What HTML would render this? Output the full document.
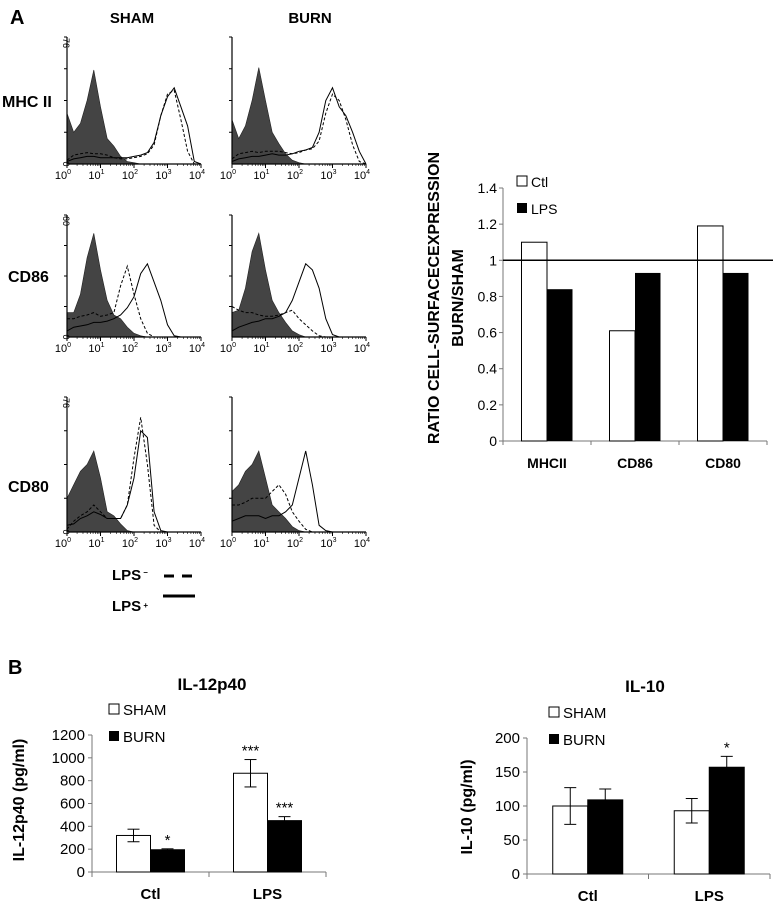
<!DOCTYPE html>
<html><head><meta charset="utf-8"><style>
html,body{margin:0;padding:0;background:#fff}
svg{display:block;font-family:"Liberation Sans",Arial,sans-serif}
.b{font-weight:bold}
</style></head><body>
<svg id="fig" width="773" height="904" viewBox="0 0 773 904" xmlns="http://www.w3.org/2000/svg">
<text x="10" y="24" font-size="20" class="b">A</text>
<text x="132" y="23" font-size="15" class="b" text-anchor="middle">SHAM</text>
<text x="310" y="23" font-size="15" class="b" text-anchor="middle">BURN</text>
<text x="2" y="107" font-size="16" class="b">MHC II</text>
<text x="8" y="282" font-size="16" class="b">CD86</text>
<text x="8" y="492" font-size="16" class="b">CD80</text>
<g id="hists"></g>
<g>
<text x="112" y="580" font-size="15" class="b">LPS<tspan font-size="8" dy="-5"> –</tspan></text>
<line x1="164" y1="576" x2="193" y2="576" stroke="#000" stroke-width="3" stroke-dasharray="10,8"/>
<text x="112" y="611" font-size="15" class="b">LPS<tspan font-size="8" dy="-3"> +</tspan></text>
<line x1="163" y1="596" x2="195" y2="596" stroke="#000" stroke-width="3"/>
</g>
<g id="ratio"></g>
<text x="8" y="674" font-size="20" class="b">B</text>
<g id="il12"></g>
<g id="il10"></g>
</svg>
<script>
// ---------- histogram data (fraction of plot height at log10 = 0,0.2,...,4) ----------
const histRows = ["MHC II","CD86","CD80"];
const histCols = ["SHAM","BURN"];
const histYMax = ["76","60","76"];
const mhcShamFill = [0.4,0.25,0.32,0.5,0.74,0.45,0.2,0.14,0.06,0.02,0.01,0,0,0,0,0,0,0,0,0,0];
const mhcShamDash = [0.03,0.07,0.08,0.09,0.08,0.08,0.07,0.05,0.04,0.04,0.05,0.06,0.08,0.15,0.38,0.55,0.58,0.35,0.1,0,0];
const mhcShamSolid = [0.02,0.04,0.05,0.06,0.06,0.05,0.05,0.05,0.05,0.05,0.06,0.07,0.09,0.17,0.38,0.53,0.6,0.45,0.3,0.02,0];
const mhcBurnFill = [0.35,0.2,0.3,0.5,0.76,0.5,0.25,0.16,0.08,0.03,0.01,0,0,0,0,0,0,0,0,0,0];
const mhcBurnDash = [0.04,0.08,0.09,0.1,0.09,0.1,0.1,0.1,0.09,0.08,0.09,0.11,0.12,0.18,0.4,0.55,0.5,0.35,0.15,0.02,0];
const mhcBurnSolid = [0.02,0.04,0.05,0.06,0.06,0.07,0.08,0.07,0.07,0.08,0.1,0.11,0.13,0.25,0.5,0.6,0.45,0.38,0.25,0.1,0];
const cd86ShamFill = [0.2,0.2,0.35,0.65,0.85,0.55,0.3,0.18,0.15,0.08,0.03,0.01,0,0,0,0,0,0,0,0,0];
const cd86ShamDash = [0.15,0.15,0.17,0.18,0.2,0.17,0.18,0.2,0.42,0.58,0.35,0.15,0.03,0,0,0,0,0,0,0,0];
const cd86ShamSolid = [0.05,0.08,0.09,0.1,0.12,0.12,0.13,0.15,0.18,0.24,0.33,0.52,0.6,0.45,0.3,0.1,0.01,0,0,0,0];
const cd86BurnFill = [0.2,0.22,0.4,0.7,0.85,0.55,0.3,0.2,0.12,0.05,0.02,0,0,0,0,0,0,0,0,0,0];
const cd86BurnDash = [0.25,0.22,0.2,0.2,0.18,0.17,0.17,0.18,0.2,0.22,0.15,0.1,0.05,0.01,0,0,0,0,0,0,0];
const cd86BurnSolid = [0.05,0.08,0.1,0.12,0.13,0.15,0.15,0.17,0.2,0.3,0.45,0.6,0.55,0.4,0.15,0.02,0,0,0,0,0];
const cd80ShamFill = [0.25,0.35,0.45,0.5,0.6,0.4,0.15,0.12,0.06,0.01,0,0,0,0,0,0,0,0,0,0,0];
const cd80ShamDash = [0.02,0.08,0.12,0.15,0.2,0.15,0.1,0.1,0.1,0.2,0.55,0.85,0.5,0.05,0,0,0,0,0,0,0];
const cd80ShamSolid = [0.05,0.06,0.1,0.12,0.15,0.13,0.1,0.1,0.1,0.2,0.4,0.75,0.7,0.15,0.01,0,0,0,0,0,0];
const cd80BurnFill = [0.3,0.35,0.45,0.5,0.6,0.4,0.2,0.15,0.1,0.04,0.01,0,0,0,0,0,0,0,0,0,0];
const cd80BurnDash = [0.2,0.2,0.22,0.25,0.25,0.25,0.3,0.35,0.28,0.15,0.08,0.02,0,0,0,0,0,0,0,0,0];
const cd80BurnSolid = [0.08,0.1,0.12,0.12,0.12,0.1,0.12,0.12,0.15,0.2,0.4,0.6,0.35,0.05,0.01,0,0,0,0,0,0];
const histData = [
 [[mhcShamFill,mhcShamDash,mhcShamSolid],[mhcBurnFill,mhcBurnDash,mhcBurnSolid]],
 [[cd86ShamFill,cd86ShamDash,cd86ShamSolid],[cd86BurnFill,cd86BurnDash,cd86BurnSolid]],
 [[cd80ShamFill,cd80ShamDash,cd80ShamSolid],[cd80BurnFill,cd80BurnDash,cd80BurnSolid]]
];
// ---------- ratio chart data ----------
const ratioCats = ["MHCII","CD86","CD80"];
const ratioCtl = [1.1,0.61,1.19];
const ratioLps = [0.84,0.93,0.93];
const ratioTicks = ["0","0.2","0.4","0.6","0.8","1","1.2","1.4"];
// ---------- cytokine data ----------
const cytoCats = ["Ctl","LPS"];
const il12Sham = [320,865];
const il12ShamErr = [55,120];
const il12Burn = [195,450];
const il12BurnErr = [8,35];
const il12ShamStars = ["","***"];
const il12BurnStars = ["*","***"];
const il12Ticks = ["0","200","400","600","800","1000","1200"];
const il10Sham = [100,93];
const il10ShamErr = [27,18];
const il10Burn = [109,157];
const il10BurnErr = [16,16];
const il10ShamStars = ["",""];
const il10BurnStars = ["","*"];
const il10Ticks = ["0","50","100","150","200"];

const NS="http://www.w3.org/2000/svg";
function mk(parent,tag,attrs,txt){const e=document.createElementNS(NS,tag);for(const k in attrs)e.setAttribute(k,attrs[k]);if(txt!==undefined)e.textContent=txt;parent.appendChild(e);return e;}

// ---------- histograms ----------
const hg=document.getElementById('hists');
const colX=[67,232], decade=33.5;
const rowTop=[37,215,397], rowBase=[164,337,532];
histRows.forEach((rn,r)=>{
 histCols.forEach((cn,c)=>{
  const x0=colX[c], top=rowTop[r], base=rowBase[r], h=base-top;
  const g=mk(hg,'g',{});
  
  
  const xs=i=>x0+i*0.2*decade, ys=v=>base-v*h;
  const [fill,dash,solid]=histData[r][c];
  let d='M'+x0+','+base;
  fill.forEach((v,i)=>{d+=' L'+xs(i).toFixed(1)+','+ys(v).toFixed(1);});
  d+=' L'+xs(fill.length-1)+','+base+' Z';
  const fp=mk(g,'path',{d:d,fill:'#444',stroke:'#222','stroke-width':0.6});
  
  
  const pl=arr=>arr.map((v,i)=>xs(i).toFixed(1)+','+ys(v).toFixed(1)).join(' ');
  const dl=mk(g,'polyline',{points:pl(dash),fill:'none',stroke:'#000','stroke-width':1,'stroke-dasharray':'3,2'});
  
  
  const sl=mk(g,'polyline',{points:pl(solid),fill:'none',stroke:'#000','stroke-width':1});
  
  
  mk(g,'line',{x1:x0,y1:top,x2:x0,y2:base,stroke:'#000','stroke-width':1.2});
  mk(g,'line',{x1:x0,y1:base,x2:x0+4*decade,y2:base,stroke:'#000','stroke-width':1.2});
  for(let k=1;k<4;k++) mk(g,'line',{x1:x0,y1:top+k*h/4,x2:x0-3,y2:top+k*h/4,stroke:'#000','stroke-width':1});
  mk(g,'line',{x1:x0,y1:top,x2:x0-3,y2:top,stroke:'#000','stroke-width':1});
  for(let k=0;k<=4;k++){
   mk(g,'line',{x1:x0+k*decade,y1:base,x2:x0+k*decade,y2:base+4,stroke:'#000','stroke-width':1});
   for(let m=2;m<10&&k<4;m++){const mx=x0+(k+Math.log10(m))*decade;mk(g,'line',{x1:mx,y1:base,x2:mx,y2:base+2,stroke:'#000','stroke-width':0.6});}
   const t=mk(g,'text',{x:x0+k*decade-4,y:base+15,'font-size':11,'text-anchor':'middle'},'10');
   mk(t,'tspan',{dy:-5,'font-size':7},String(k));
  }
  if(c===0){
   mk(g,'text',{x:0,y:0,'font-size':9,transform:`translate(${x0-4},${base}) rotate(90)`,'text-anchor':'middle'},'0');
   mk(g,'text',{x:0,y:0,'font-size':9,transform:`translate(${x0-4},${top+6}) rotate(90)`,'text-anchor':'middle'},histYMax[r]);
  }
 });
});

// ---------- ratio chart ----------
(function(){
 const g=document.getElementById('ratio');
 const ax=503, y0=441, ppu=(441-188)/1.4, xEnd=767, gw=(xEnd-ax)/3, bw=25.5;
 const y=v=>y0-v*ppu;
 mk(g,'line',{x1:ax,y1:188,x2:ax,y2:y0,stroke:'#777','stroke-width':1});
 mk(g,'line',{x1:ax,y1:y0,x2:xEnd,y2:y0,stroke:'#777','stroke-width':1});
 ratioTicks.forEach(t=>{const v=parseFloat(t);mk(g,'line',{x1:ax-4,y1:y(v),x2:ax,y2:y(v),stroke:'#777'});
  const tx=mk(g,'text',{x:ax-6,y:y(v)+5,'font-size':14,'text-anchor':'end'},t);
  
  });
 for(let k=0;k<=3;k++) mk(g,'line',{x1:ax+k*gw,y1:y0,x2:ax+k*gw,y2:y0+4,stroke:'#777'});
 ratioCats.forEach((c,i)=>{
  const cx=ax+gw*(i+0.5);
  const b1=mk(g,'rect',{x:cx-bw,y:y(ratioCtl[i]),width:bw,height:ratioCtl[i]*ppu,fill:'#fff',stroke:'#000','stroke-width':1});
  
  
  const b2=mk(g,'rect',{x:cx,y:y(ratioLps[i]),width:bw,height:ratioLps[i]*ppu,fill:'#000'});
  
  
  const t=mk(g,'text',{x:cx,y:y0+27,'font-size':14,'text-anchor':'middle','class':'b'},c);
  
  
 });
 const rl=mk(g,'line',{x1:ax,y1:y(1),x2:773,y2:y(1),stroke:'#000','stroke-width':1.5});
 
 
 mk(g,'rect',{x:517,y:176,width:10,height:10,fill:'#fff',stroke:'#000'});
 mk(g,'text',{x:531,y:187,'font-size':14},'Ctl');
 mk(g,'rect',{x:517,y:203,width:10,height:10,fill:'#000'});
 mk(g,'text',{x:531,y:214,'font-size':14},'LPS');
 const yt=mk(g,'text',{x:0,y:0,'font-size':16,'class':'b','text-anchor':'middle',transform:'translate(439,298) rotate(-90)'},'RATIO CELL-SURFACECEXPRESSION');
 
 
 mk(g,'text',{x:0,y:0,'font-size':16,'class':'b','text-anchor':'middle',transform:'translate(463,298) rotate(-90)'},'BURN/SHAM');
})();

// ---------- cytokine charts ----------
function cyto(id,o){
 const g=document.getElementById(id);
 const ax=o.ax,y0=o.y0,ppu=(o.y0-o.yTop)/o.max,xEnd=o.xEnd,gw=(xEnd-ax)/2,bw=o.bw;
 const y=v=>y0-v*ppu;
 mk(g,'line',{x1:ax,y1:o.yTop,x2:ax,y2:y0,stroke:'#777'});
 mk(g,'line',{x1:ax,y1:y0,x2:xEnd,y2:y0,stroke:'#777'});
 for(let k=0;k<=2;k++) mk(g,'line',{x1:ax+k*gw,y1:y0,x2:ax+k*gw,y2:y0+5,stroke:'#777'});
 o.ticks.forEach(t=>{const v=+t;mk(g,'line',{x1:ax-4,y1:y(v),x2:ax,y2:y(v),stroke:'#777'});
  const tx=mk(g,'text',{x:ax-7,y:y(v)+5,'font-size':15,'text-anchor':'end'},t);
  
  });
 cytoCats.forEach((c,i)=>{
  const cx=ax+gw*(i+0.5);
  [[o.sham,o.shamErr,o.shamStars,cx-bw,'#fff','sham'],[o.burn,o.burnErr,o.burnStars,cx,'#000','burn']].forEach(s=>{
   const v=s[0][i],e=s[1][i],bx=s[3];
   const r=mk(g,'rect',{x:bx,y:y(v),width:bw,height:v*ppu,fill:s[4],stroke:'#000','stroke-width':1});
   
   
   const mx=bx+bw/2;
   mk(g,'line',{x1:mx,y1:y(v+e),x2:mx,y2:y(v-e),stroke:'#000','stroke-width':1});
   mk(g,'line',{x1:mx-6,y1:y(v+e),x2:mx+6,y2:y(v+e),stroke:'#000'});
   mk(g,'line',{x1:mx-6,y1:y(v-e),x2:mx+6,y2:y(v-e),stroke:'#000'});
   if(s[2][i]){const st=mk(g,'text',{x:mx,y:y(v+e)-4,'font-size':15,'text-anchor':'middle'},s[2][i]);
    
    }
  });
  const t=mk(g,'text',{x:cx,y:y0+27,'font-size':15,'class':'b','text-anchor':'middle'},c);
  
  
 });
 const tt=mk(g,'text',{x:o.titleX,y:o.titleY,'font-size':17,'class':'b','text-anchor':'middle'},o.title);
 
 
 mk(g,'rect',{x:o.legX,y:o.legY,width:10,height:10,fill:'#fff',stroke:'#000'});
 mk(g,'text',{x:o.legX+14,y:o.legY+11,'font-size':15},'SHAM');
 mk(g,'rect',{x:o.legX,y:o.legY+27,width:10,height:10,fill:'#000'});
 mk(g,'text',{x:o.legX+14,y:o.legY+38,'font-size':15},'BURN');
 const yt=mk(g,'text',{x:0,y:0,'font-size':16,'class':'b','text-anchor':'middle',transform:`translate(${o.ytX},${o.ytY}) rotate(-90)`},o.ytitle);
 
 
}
cyto('il12',{ax:92,y0:872,yTop:735,max:1200,xEnd:326,bw:34,ticks:il12Ticks,sham:il12Sham,shamErr:il12ShamErr,burn:il12Burn,burnErr:il12BurnErr,shamStars:il12ShamStars,burnStars:il12BurnStars,title:'IL-12p40',titleX:212,titleY:690,legX:109,legY:704,ytitle:'IL-12p40 (pg/ml)',ytX:24,ytY:800});
cyto('il10',{ax:527,y0:874,yTop:738,max:200,xEnd:770,bw:35,ticks:il10Ticks,sham:il10Sham,shamErr:il10ShamErr,burn:il10Burn,burnErr:il10BurnErr,shamStars:il10ShamStars,burnStars:il10BurnStars,title:'IL-10',titleX:645,titleY:692,legX:549,legY:707,ytitle:'IL-10 (pg/ml)',ytX:472,ytY:807});
</script>
</body></html>
